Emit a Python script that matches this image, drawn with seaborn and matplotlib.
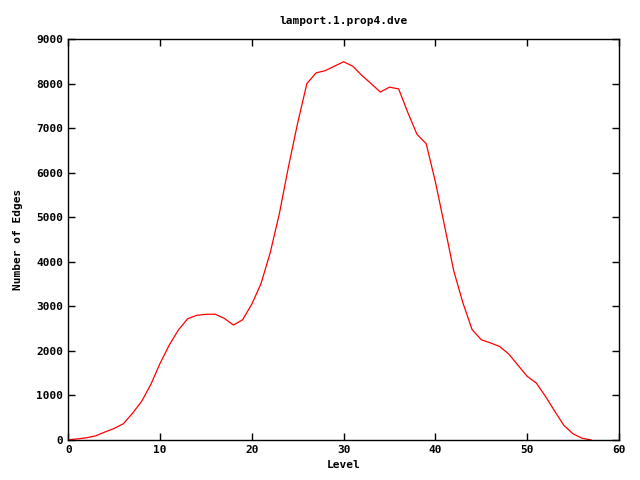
import pandas as pd
import matplotlib
matplotlib.use("Agg")
import matplotlib.pyplot as plt
import seaborn as sns

levels = list(range(0, 58))
edges = [5, 25, 50, 95, 180, 260, 365, 600, 870, 1250,
         1720, 2130, 2470, 2720, 2800, 2820, 2825, 2730, 2580, 2700,
         3050, 3510, 4200, 5080, 6140, 7120, 8000, 8240, 8290, 8390,
         8490, 8390, 8180, 8000, 7810, 7920, 7880, 7350, 6860, 6650,
         5800, 4810, 3800, 3080, 2480, 2250, 2180, 2100, 1930, 1680,
         1430, 1280, 980, 650, 330, 140, 40, 0]

df = pd.DataFrame({"Level": levels, "Edges": edges})

sns.set_style("ticks")
plt.rcParams["font.family"] = ["DejaVu Sans Mono", "DejaVu Sans"]
plt.rcParams["font.weight"] = "bold"
plt.rcParams["text.color"] = "black"
plt.rcParams["axes.labelcolor"] = "black"

fig = plt.figure(figsize=(6.4, 4.8), dpi=100)
ax = fig.add_axes([0.1067, 0.0833, 0.8603, 0.8354])
sns.lineplot(x="Level", y="Edges", data=df, color="#ff0000", linewidth=0.9, ax=ax)

ax.set_xlim(0, 60)
ax.set_ylim(0, 9000)
ax.set_xticks(range(0, 61, 10))
ax.set_yticks(range(0, 9001, 1000))
ax.tick_params(direction="in", top=True, right=True, length=5, width=1,
               labelsize=8, colors="black")
for s in ax.spines.values():
    s.set_linewidth(1)
    s.set_color("black")
ax.set_title("lamport.1.prop4.dve", fontsize=8, fontweight="bold", pad=11, color="black")
ax.set_xlabel("Level", fontsize=8, fontweight="bold")
ax.set_ylabel("Number of Edges", fontsize=8, fontweight="bold", labelpad=10)

fig.savefig("out.png", dpi=100)
